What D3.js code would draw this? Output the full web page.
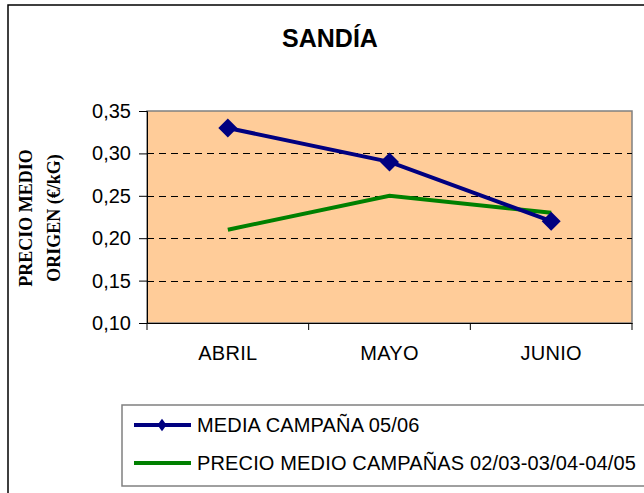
<!DOCTYPE html>
<head>
  <meta charset="utf-8">
  <script src="https://d3js.org/d3.v7.min.js"></script>
  <style>
    body { margin: 0; background: #fff; }
    svg { display: block; }
  </style>
</head>
<body>
  <svg width="644" height="493"></svg>
  <script>
    // data
    const months = ['ABRIL', 'MAYO', 'JUNIO'];
    const media0506 = [0.33, 0.29, 0.22];
    const precioMedio = [0.21, 0.25, 0.23];
    const yTicks = [0.10, 0.15, 0.20, 0.25, 0.30, 0.35];
    const seriesNames = ['MEDIA CAMPAÑA 05/06', 'PRECIO MEDIO CAMPAÑAS 02/03-03/04-04/05'];

    const svg = d3.select('svg');
    const plot = { left: 147, right: 632, top: 111, bottom: 323 };
    const comma = d => d3.format('.2f')(d).replace('.', ',');
    const sans = 'Arial, "Liberation Sans", sans-serif';

    // outer chart frame
    svg.append('rect')
      .attr('x', 8).attr('y', 5).attr('width', 700).attr('height', 600)
      .attr('fill', 'none').attr('stroke', '#000').attr('stroke-width', 1.5);

    svg.append('text')
      .attr('x', 330).attr('y', 47)
      .attr('text-anchor', 'middle')
      .style('font', `bold 25px ${sans}`)
      .text('SANDÍA');

    const x = d3.scaleBand().domain(months).range([plot.left, plot.right]);
    const y = d3.scaleLinear().domain([0.10, 0.35]).range([plot.bottom, plot.top]);

    svg.append('rect')
      .attr('x', plot.left).attr('y', plot.top)
      .attr('width', plot.right - plot.left).attr('height', plot.bottom - plot.top)
      .attr('fill', '#FFCC99').attr('stroke', '#808080').attr('stroke-width', 1.5);

    // dashed gridlines
    svg.append('g').selectAll('line')
      .data(yTicks.slice(1, -1))
      .join('line')
      .attr('x1', plot.left).attr('x2', plot.right)
      .attr('y1', d => Math.round(y(d)) + 0.5).attr('y2', d => Math.round(y(d)) + 0.5)
      .attr('stroke', '#000').attr('stroke-dasharray', '7,5');

    // y axis
    const yAxis = svg.append('g')
      .attr('transform', `translate(${plot.left},0)`)
      .call(d3.axisLeft(y).tickValues(yTicks).tickFormat(comma).tickSize(8).tickPadding(8));
    yAxis.select('.domain').attr('stroke', '#000');
    yAxis.selectAll('text')
      .style('font', `20px ${sans}`).attr('fill', '#000');

    // x axis
    const xAxis = svg.append('g')
      .attr('transform', `translate(0,${plot.bottom})`)
      .call(d3.axisBottom(x).tickSize(0).tickPadding(23));
    xAxis.select('.domain').attr('stroke', '#000');
    xAxis.selectAll('text')
      .style('font', `20px ${sans}`).style('letter-spacing', '0.3px').attr('fill', '#000');
    // category separators
    xAxis.append('g').selectAll('line')
      .data([plot.left, ...months.slice(1).map(m => x(m)), plot.right])
      .join('line')
      .attr('x1', d => d).attr('x2', d => d).attr('y1', 0).attr('y2', 7)
      .attr('stroke', '#000');

    // y axis title
    const yt = svg.append('text')
      .attr('transform', 'translate(39,218) rotate(-90)')
      .attr('text-anchor', 'middle')
      .style('font', 'bold 18px "Liberation Serif", "Times New Roman", serif');
    yt.append('tspan').attr('x', 0).attr('dy', '-0.4em').text('PRECIO MEDIO');
    yt.append('tspan').attr('x', 0).attr('dy', '1.55em').text('ORIGEN (€/kG)');

    const cx = m => x(m) + x.bandwidth() / 2;
    const line = d3.line().x((d, i) => cx(months[i])).y(d => y(d));

    svg.append('path').datum(precioMedio)
      .attr('d', line).attr('fill', 'none')
      .attr('stroke', '#008000').attr('stroke-width', 4);

    svg.append('path').datum(media0506)
      .attr('d', line).attr('fill', 'none')
      .attr('stroke', '#000080').attr('stroke-width', 4);

    const diamond = d3.symbol().type(d3.symbolDiamond2).size(230);
    svg.append('g').selectAll('path')
      .data(media0506)
      .join('path')
      .attr('d', diamond)
      .attr('transform', (d, i) => `translate(${cx(months[i])},${y(d)})`)
      .attr('fill', '#000080');

    // legend
    const legend = svg.append('g');
    legend.append('rect')
      .attr('x', 122).attr('y', 405).attr('width', 600).attr('height', 81)
      .attr('fill', '#fff').attr('stroke', '#808080').attr('stroke-width', 1.5);
    const items = legend.selectAll('g.item')
      .data(seriesNames)
      .join('g')
      .attr('transform', (d, i) => `translate(0,${425 + i * 38})`);
    items.append('line')
      .attr('x1', 134).attr('x2', 191).attr('y1', 0).attr('y2', 0)
      .attr('stroke', (d, i) => i === 0 ? '#000080' : '#008000').attr('stroke-width', 4);
    items.filter((d, i) => i === 0).append('path')
      .attr('d', d3.symbol().type(d3.symbolDiamond2).size(75))
      .attr('transform', 'translate(162,0) scale(0.85,1.15)')
      .attr('fill', '#000080');
    items.append('text')
      .attr('x', 197).attr('y', 7)
      .style('font', `20px ${sans}`)
      .style('letter-spacing', '0.15px')
      .text(d => d);
  </script>
</body>
